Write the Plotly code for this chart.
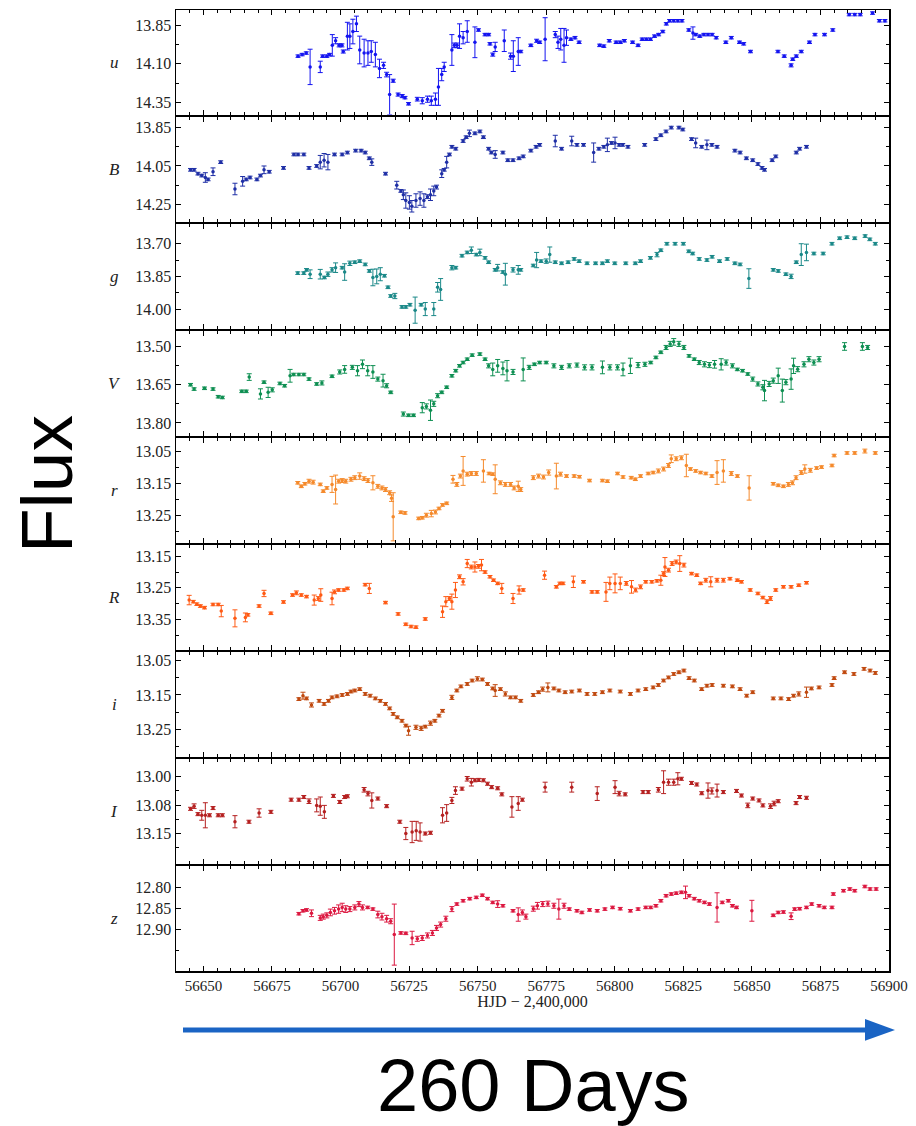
import plotly.graph_objects as go

# ---------------- data (HJD-2400000, magnitude, error) ----------------
BANDS = ["u", "B", "g", "V", "r", "R", "i", "I", "z"]

u_data = [
    (56684.5, 14.05, 0.008), (56686.0, 14.04, 0.008), (56687.5, 14.03, 0.008),
    (56688.9, 14.12, 0.115), (56692.6, 14.12, 0.037),
    (56693.5, 14.05, 0.008), (56695.0, 14.05, 0.008), (56696.0, 14.04, 0.008),
    (56697.0, 13.98, 0.07), (56698.2, 13.95, 0.02), (56699.5, 13.98, 0.01),
    (56700.5, 13.98, 0.01), (56701.0, 14.02, 0.01), (56702.5, 13.92, 0.09),
    (56703.4, 13.92, 0.08), (56704.5, 13.89, 0.08), (56705.8, 13.84, 0.05),
    (56707.0, 14.01, 0.09), (56708.6, 14.03, 0.09), (56710.0, 14.03, 0.08),
    (56711.2, 14.02, 0.07), (56712.7, 14.04, 0.08), (56714.2, 14.13, 0.06),
    (56715.7, 14.11, 0.02), (56716.8, 14.17, 0.015), (56717.9, 14.30, 0.13),
    (56719.2, 14.21, 0.01), (56721.0, 14.30, 0.01), (56722.5, 14.31, 0.01),
    (56723.5, 14.32, 0.008), (56724.8, 14.36, 0.008), (56728.0, 14.33, 0.012),
    (56729.8, 14.34, 0.02), (56731.7, 14.33, 0.02), (56733.1, 14.34, 0.03),
    (56734.6, 14.33, 0.04), (56735.7, 14.25, 0.12), (56736.9, 14.17, 0.04),
    (56737.8, 14.12, 0.03), (56740.6, 14.01, 0.10), (56741.5, 13.98, 0.015),
    (56742.5, 13.98, 0.015), (56743.4, 13.92, 0.08), (56744.7, 13.93, 0.04),
    (56746.2, 13.89, 0.07), (56749.0, 13.96, 0.10), (56750.3, 13.88, 0.008),
    (56752.7, 13.91, 0.008), (56754.0, 13.91, 0.008), (56754.5, 13.97, 0.008),
    (56755.5, 14.04, 0.01), (56756.4, 13.99, 0.03), (56759.7, 13.95, 0.07),
    (56762.0, 14.05, 0.02), (56763.0, 14.05, 0.10), (56764.8, 14.02, 0.09),
    (56765.7, 14.02, 0.008), (56769.4, 13.98, 0.008), (56771.5, 13.95, 0.01),
    (56772.6, 13.96, 0.008), (56774.6, 13.94, 0.14), (56778.3, 13.91, 0.02),
    (56779.3, 13.96, 0.04), (56780.3, 13.94, 0.07), (56781.5, 13.98, 0.11),
    (56782.4, 13.93, 0.05), (56784.0, 13.94, 0.008), (56785.5, 13.93, 0.008),
    (56787.0, 13.96, 0.008), (56794.5, 13.98, 0.008), (56796.0, 13.985, 0.008),
    (56798.0, 13.95, 0.008), (56800.5, 13.96, 0.008), (56802.0, 13.96, 0.008),
    (56803.5, 13.95, 0.008), (56806.5, 13.96, 0.008), (56808.5, 13.98, 0.008),
    (56810.0, 13.94, 0.008), (56811.5, 13.94, 0.008), (56813.0, 13.94, 0.008),
    (56814.5, 13.92, 0.008), (56816.0, 13.91, 0.008), (56817.5, 13.89, 0.008),
    (56818.8, 13.84, 0.008), (56820.0, 13.82, 0.008), (56821.5, 13.82, 0.008),
    (56823.0, 13.82, 0.008), (56824.5, 13.82, 0.008), (56827.0, 13.88, 0.008),
    (56828.5, 13.90, 0.04), (56829.5, 13.91, 0.008), (56831.0, 13.92, 0.008),
    (56832.5, 13.91, 0.008), (56834.0, 13.91, 0.008), (56835.5, 13.91, 0.008),
    (56837.0, 13.93, 0.008), (56840.5, 13.96, 0.008), (56842.5, 13.93, 0.008),
    (56845.5, 13.96, 0.008), (56847.0, 13.97, 0.008), (56849.5, 14.02, 0.008),
    (56859.5, 14.02, 0.008), (56861.8, 14.05, 0.008), (56864.3, 14.11, 0.01),
    (56864.9, 14.07, 0.008), (56866.2, 14.05, 0.008), (56868.0, 14.02, 0.008),
    (56871.0, 13.96, 0.008), (56873.0, 13.91, 0.008), (56876.5, 13.91, 0.008),
    (56879.5, 13.88, 0.008), (56885.5, 13.78, 0.008), (56887.5, 13.78, 0.008),
    (56889.5, 13.78, 0.008), (56894.0, 13.77, 0.008), (56896.5, 13.82, 0.008),
    (56898.5, 13.82, 0.008),
]

B_data = [
    (56645.3, 14.07, 0.007), (56646.6, 14.07, 0.007), (56648.0, 14.09, 0.007),
    (56649.4, 14.10, 0.007), (56650.7, 14.11, 0.025), (56651.7, 14.12, 0.007),
    (56653.5, 14.08, 0.02), (56656.3, 14.03, 0.007), (56661.5, 14.17, 0.03),
    (56664.3, 14.13, 0.025), (56665.6, 14.12, 0.007), (56667.0, 14.11, 0.007),
    (56669.5, 14.12, 0.007), (56670.8, 14.10, 0.007), (56672.1, 14.07, 0.02),
    (56674.0, 14.08, 0.007), (56679.2, 14.06, 0.007), (56683.0, 13.99, 0.007),
    (56684.5, 13.99, 0.007), (56686.6, 13.99, 0.007), (56688.5, 14.06, 0.007),
    (56691.3, 14.05, 0.007), (56692.6, 14.03, 0.035), (56694.0, 14.02, 0.035),
    (56695.4, 14.03, 0.04), (56697.8, 13.99, 0.007), (56700.6, 13.99, 0.007),
    (56702.5, 13.98, 0.007), (56705.5, 13.97, 0.007), (56707.5, 13.97, 0.007),
    (56709.0, 13.98, 0.007), (56710.5, 14.01, 0.007), (56711.4, 14.03, 0.017),
    (56716.4, 14.09, 0.007), (56720.5, 14.15, 0.02), (56722.0, 14.18, 0.007),
    (56722.9, 14.20, 0.025), (56723.8, 14.23, 0.04), (56725.1, 14.24, 0.035),
    (56726.0, 14.26, 0.03), (56727.5, 14.23, 0.035), (56729.0, 14.22, 0.035),
    (56730.4, 14.23, 0.035), (56731.7, 14.21, 0.01), (56732.8, 14.20, 0.03),
    (56734.0, 14.18, 0.025), (56735.0, 14.16, 0.01), (56736.9, 14.09, 0.02),
    (56737.8, 14.07, 0.007), (56738.7, 14.03, 0.03), (56739.7, 13.99, 0.007),
    (56740.6, 13.95, 0.007), (56742.0, 13.96, 0.007), (56744.7, 13.92, 0.007),
    (56745.8, 13.90, 0.007), (56747.0, 13.88, 0.017), (56749.0, 13.88, 0.007),
    (56750.8, 13.87, 0.007), (56752.1, 13.90, 0.007), (56754.0, 13.96, 0.007),
    (56755.0, 13.98, 0.007), (56756.4, 13.99, 0.02), (56759.2, 13.98, 0.007),
    (56761.0, 14.02, 0.007), (56762.9, 14.02, 0.007), (56765.1, 14.01, 0.007),
    (56766.6, 14.00, 0.007), (56769.4, 13.97, 0.007), (56771.3, 13.95, 0.007),
    (56772.6, 13.94, 0.007), (56778.3, 13.92, 0.03), (56780.6, 13.96, 0.007),
    (56784.3, 13.92, 0.025), (56786.2, 13.94, 0.007), (56788.6, 13.94, 0.007),
    (56792.3, 13.98, 0.05), (56794.2, 13.96, 0.007), (56796.0, 13.95, 0.007),
    (56797.3, 13.94, 0.035), (56798.8, 13.93, 0.007), (56800.1, 13.93, 0.03),
    (56801.6, 13.94, 0.007), (56802.9, 13.94, 0.007), (56804.8, 13.95, 0.007),
    (56810.9, 13.94, 0.007), (56815.0, 13.91, 0.007), (56816.8, 13.89, 0.007),
    (56818.7, 13.87, 0.007), (56820.6, 13.85, 0.007), (56823.4, 13.85, 0.007),
    (56824.8, 13.86, 0.007), (56828.0, 13.91, 0.007), (56829.5, 13.93, 0.025),
    (56831.7, 13.95, 0.007), (56833.6, 13.94, 0.025), (56835.4, 13.94, 0.007),
    (56837.3, 13.95, 0.007), (56843.8, 13.97, 0.007), (56845.7, 13.98, 0.007),
    (56848.0, 14.01, 0.007), (56850.3, 14.02, 0.007), (56852.2, 14.04, 0.007),
    (56853.7, 14.06, 0.007), (56854.6, 14.07, 0.007), (56857.4, 14.02, 0.007),
    (56858.7, 14.00, 0.007), (56866.2, 13.98, 0.007), (56867.4, 13.96, 0.007),
    (56869.9, 13.95, 0.007),
]

g_data = [
    (56684.4, 13.835, 0.006), (56686.6, 13.835, 0.006), (56687.6, 13.82, 0.006),
    (56688.9, 13.84, 0.02), (56692.6, 13.84, 0.022), (56694.1, 13.855, 0.006),
    (56695.4, 13.84, 0.01), (56696.9, 13.82, 0.01), (56698.2, 13.81, 0.022),
    (56700.6, 13.81, 0.006), (56701.5, 13.83, 0.038), (56703.4, 13.79, 0.01),
    (56705.2, 13.785, 0.006), (56707.0, 13.78, 0.006), (56709.0, 13.795, 0.006),
    (56710.5, 13.825, 0.006), (56711.8, 13.855, 0.038), (56713.2, 13.85, 0.034),
    (56714.5, 13.84, 0.03), (56716.0, 13.847, 0.006), (56717.3, 13.90, 0.006),
    (56718.3, 13.94, 0.006), (56719.8, 13.94, 0.012), (56722.4, 13.99, 0.006),
    (56723.8, 13.99, 0.006), (56725.3, 13.98, 0.006), (56727.2, 14.005, 0.06),
    (56729.4, 13.98, 0.006), (56730.9, 14.00, 0.03), (56734.0, 14.00, 0.03),
    (56735.4, 13.90, 0.022), (56736.5, 13.91, 0.05), (56740.6, 13.81, 0.01),
    (56742.0, 13.81, 0.006), (56744.3, 13.755, 0.006), (56746.2, 13.74, 0.006),
    (56747.7, 13.73, 0.015), (56749.5, 13.75, 0.006), (56750.8, 13.74, 0.015),
    (56752.7, 13.765, 0.006), (56754.0, 13.785, 0.006), (56756.4, 13.82, 0.006),
    (56757.3, 13.81, 0.015), (56759.2, 13.83, 0.006), (56760.1, 13.84, 0.05),
    (56762.9, 13.82, 0.01), (56764.8, 13.82, 0.02), (56765.7, 13.82, 0.006),
    (56770.3, 13.80, 0.006), (56771.5, 13.775, 0.035), (56773.1, 13.78, 0.006),
    (56775.0, 13.78, 0.01), (56776.3, 13.75, 0.035), (56778.3, 13.785, 0.006),
    (56780.6, 13.79, 0.006), (56783.0, 13.785, 0.006), (56785.2, 13.77, 0.006),
    (56787.0, 13.78, 0.006), (56789.9, 13.79, 0.006), (56793.0, 13.79, 0.006),
    (56795.5, 13.79, 0.006), (56797.3, 13.78, 0.006), (56800.0, 13.79, 0.006),
    (56804.0, 13.79, 0.006), (56807.5, 13.79, 0.006), (56809.4, 13.78, 0.006),
    (56813.0, 13.765, 0.006), (56815.4, 13.75, 0.01), (56816.8, 13.73, 0.006),
    (56819.0, 13.70, 0.006), (56822.0, 13.70, 0.006), (56825.0, 13.70, 0.006),
    (56827.0, 13.735, 0.006), (56828.4, 13.745, 0.006), (56830.8, 13.77, 0.006),
    (56833.6, 13.775, 0.006), (56835.5, 13.76, 0.006), (56838.2, 13.78, 0.006),
    (56841.0, 13.77, 0.006), (56843.8, 13.79, 0.006), (56845.7, 13.795, 0.006),
    (56848.9, 13.86, 0.045), (56857.8, 13.82, 0.006), (56859.6, 13.825, 0.006),
    (56862.4, 13.84, 0.006), (56864.3, 13.85, 0.01), (56866.2, 13.785, 0.006),
    (56868.0, 13.75, 0.05), (56869.9, 13.74, 0.038), (56872.6, 13.745, 0.006),
    (56876.0, 13.745, 0.006), (56879.2, 13.70, 0.006), (56882.0, 13.675, 0.006),
    (56884.7, 13.67, 0.006), (56887.5, 13.675, 0.006), (56891.3, 13.665, 0.006),
    (56893.0, 13.68, 0.006), (56895.0, 13.70, 0.006),
]

V_data = [
    (56645.3, 13.65, 0.005), (56646.6, 13.667, 0.005), (56650.4, 13.664, 0.005),
    (56653.5, 13.667, 0.005), (56655.4, 13.697, 0.005), (56656.9, 13.70, 0.005),
    (56664.0, 13.676, 0.005), (56665.6, 13.676, 0.005), (56666.7, 13.62, 0.013),
    (56670.8, 13.686, 0.02), (56672.1, 13.64, 0.005), (56673.6, 13.68, 0.02),
    (56675.1, 13.67, 0.008), (56677.9, 13.645, 0.005), (56679.6, 13.654, 0.005),
    (56681.6, 13.615, 0.025), (56682.9, 13.61, 0.005), (56684.8, 13.61, 0.005),
    (56686.6, 13.61, 0.005), (56688.5, 13.628, 0.005), (56691.3, 13.647, 0.005),
    (56693.2, 13.643, 0.008), (56696.9, 13.617, 0.005), (56699.7, 13.60, 0.008),
    (56701.5, 13.59, 0.015), (56704.3, 13.582, 0.008), (56706.2, 13.595, 0.02),
    (56708.0, 13.57, 0.017), (56709.9, 13.595, 0.02), (56711.8, 13.60, 0.025),
    (56713.6, 13.628, 0.008), (56715.5, 13.634, 0.025), (56716.8, 13.654, 0.008),
    (56718.3, 13.68, 0.005), (56722.9, 13.765, 0.008), (56724.8, 13.77, 0.005),
    (56726.6, 13.77, 0.005), (56729.8, 13.74, 0.02), (56731.3, 13.735, 0.01),
    (56732.8, 13.75, 0.04), (56734.0, 13.725, 0.01), (56735.4, 13.693, 0.008),
    (56736.9, 13.68, 0.005), (56738.7, 13.66, 0.005), (56740.6, 13.615, 0.005),
    (56742.0, 13.595, 0.005), (56743.4, 13.576, 0.005), (56744.7, 13.563, 0.005),
    (56746.2, 13.55, 0.005), (56748.0, 13.534, 0.005), (56750.8, 13.53, 0.005),
    (56752.7, 13.55, 0.005), (56754.0, 13.576, 0.008), (56755.5, 13.59, 0.025),
    (56757.3, 13.576, 0.025), (56759.2, 13.586, 0.025), (56760.7, 13.595, 0.04),
    (56762.9, 13.60, 0.01), (56766.6, 13.59, 0.045), (56768.8, 13.582, 0.008),
    (56770.7, 13.57, 0.005), (56772.6, 13.563, 0.005), (56775.0, 13.563, 0.005),
    (56777.8, 13.576, 0.008), (56780.6, 13.582, 0.008), (56783.4, 13.576, 0.008),
    (56786.2, 13.573, 0.008), (56789.0, 13.582, 0.01), (56791.7, 13.582, 0.01),
    (56795.5, 13.582, 0.025), (56798.2, 13.582, 0.01), (56801.0, 13.582, 0.01),
    (56803.0, 13.59, 0.025), (56805.7, 13.576, 0.03), (56808.5, 13.573, 0.01),
    (56811.0, 13.57, 0.008), (56813.1, 13.563, 0.005), (56815.0, 13.543, 0.005),
    (56816.8, 13.523, 0.005), (56818.7, 13.504, 0.008), (56820.2, 13.49, 0.01),
    (56821.5, 13.482, 0.013), (56823.4, 13.49, 0.01), (56825.2, 13.504, 0.008),
    (56827.1, 13.537, 0.005), (56829.0, 13.55, 0.005), (56830.8, 13.563, 0.008),
    (56832.7, 13.57, 0.01), (56834.5, 13.573, 0.01), (56836.4, 13.57, 0.015),
    (56838.8, 13.57, 0.022), (56840.6, 13.563, 0.01), (56842.9, 13.576, 0.008),
    (56844.7, 13.59, 0.005), (56846.6, 13.595, 0.005), (56848.5, 13.608, 0.005),
    (56850.3, 13.628, 0.008), (56852.2, 13.647, 0.008), (56854.0, 13.66, 0.01),
    (56854.6, 13.673, 0.04), (56856.3, 13.647, 0.01), (56857.8, 13.634, 0.01),
    (56859.6, 13.615, 0.03), (56861.1, 13.673, 0.045), (56862.4, 13.64, 0.01),
    (56864.3, 13.628, 0.04), (56865.2, 13.576, 0.03), (56866.7, 13.589, 0.01),
    (56869.0, 13.57, 0.01), (56870.8, 13.55, 0.01), (56872.6, 13.563, 0.01),
    (56874.5, 13.55, 0.01), (56883.8, 13.50, 0.015), (56890.3, 13.50, 0.015),
    (56892.2, 13.504, 0.008),
]

r_data = [
    (56684.4, 13.149, 0.004), (56685.7, 13.16, 0.004), (56687.0, 13.152, 0.004),
    (56688.5, 13.144, 0.006), (56690.0, 13.147, 0.006), (56692.6, 13.154, 0.004),
    (56693.7, 13.175, 0.004), (56695.0, 13.165, 0.004), (56696.9, 13.154, 0.025),
    (56698.2, 13.17, 0.045), (56699.3, 13.144, 0.006), (56700.6, 13.142, 0.006),
    (56701.9, 13.144, 0.006), (56703.8, 13.138, 0.006), (56705.2, 13.133, 0.006),
    (56707.0, 13.128, 0.01), (56708.6, 13.136, 0.006), (56710.0, 13.142, 0.006),
    (56711.8, 13.149, 0.022), (56713.6, 13.16, 0.006), (56715.1, 13.165, 0.006),
    (56716.4, 13.17, 0.006), (56717.9, 13.18, 0.006), (56718.6, 13.197, 0.01),
    (56719.2, 13.255, 0.075), (56722.0, 13.241, 0.004), (56723.5, 13.243, 0.004),
    (56728.5, 13.26, 0.004), (56729.8, 13.258, 0.004), (56731.3, 13.25, 0.006),
    (56733.1, 13.245, 0.01), (56734.6, 13.24, 0.006), (56735.9, 13.229, 0.004),
    (56737.2, 13.218, 0.004), (56738.7, 13.213, 0.004), (56741.0, 13.138, 0.012),
    (56742.4, 13.154, 0.006), (56743.7, 13.128, 0.006), (56744.7, 13.112, 0.045),
    (56746.2, 13.122, 0.006), (56747.7, 13.12, 0.006), (56749.5, 13.12, 0.006),
    (56752.1, 13.112, 0.035), (56754.2, 13.12, 0.004), (56755.5, 13.122, 0.004),
    (56756.4, 13.138, 0.045), (56758.3, 13.149, 0.006), (56760.1, 13.154, 0.006),
    (56762.0, 13.154, 0.006), (56763.3, 13.165, 0.006), (56764.8, 13.16, 0.016),
    (56765.7, 13.17, 0.006), (56770.3, 13.133, 0.006), (56772.2, 13.128, 0.006),
    (56774.0, 13.131, 0.006), (56775.9, 13.117, 0.008), (56778.7, 13.128, 0.04),
    (56780.2, 13.122, 0.006), (56782.4, 13.128, 0.004), (56785.2, 13.128, 0.004),
    (56787.1, 13.13, 0.004), (56790.8, 13.142, 0.004), (56795.5, 13.142, 0.004),
    (56797.3, 13.144, 0.004), (56801.0, 13.12, 0.004), (56803.0, 13.131, 0.004),
    (56806.0, 13.133, 0.004), (56807.5, 13.138, 0.004), (56809.4, 13.128, 0.004),
    (56812.2, 13.12, 0.004), (56814.0, 13.117, 0.004), (56815.9, 13.112, 0.006),
    (56817.8, 13.106, 0.006), (56819.6, 13.095, 0.006), (56820.6, 13.074, 0.012),
    (56822.4, 13.074, 0.006), (56824.3, 13.071, 0.006), (56826.1, 13.095, 0.035),
    (56827.6, 13.106, 0.004), (56829.5, 13.112, 0.004), (56831.3, 13.117, 0.004),
    (56833.2, 13.12, 0.004), (56835.4, 13.128, 0.004), (56837.3, 13.117, 0.037),
    (56839.6, 13.112, 0.035), (56842.5, 13.12, 0.006), (56844.7, 13.128, 0.004),
    (56849.0, 13.165, 0.038), (56857.8, 13.152, 0.004), (56859.6, 13.157, 0.004),
    (56861.5, 13.16, 0.004), (56863.3, 13.154, 0.006), (56864.8, 13.149, 0.006),
    (56866.1, 13.133, 0.006), (56868.0, 13.117, 0.006), (56869.3, 13.106, 0.013),
    (56871.3, 13.11, 0.006), (56873.6, 13.103, 0.004), (56875.4, 13.10, 0.004),
    (56879.2, 13.095, 0.004), (56880.0, 13.064, 0.004), (56884.7, 13.056, 0.004),
    (56887.5, 13.056, 0.004), (56891.2, 13.05, 0.006), (56895.0, 13.056, 0.004),
]

R_data = [
    (56644.8, 13.289, 0.015), (56646.3, 13.294, 0.004), (56647.6, 13.302, 0.004),
    (56648.9, 13.308, 0.004), (56650.4, 13.313, 0.004), (56653.5, 13.303, 0.004),
    (56655.4, 13.303, 0.004), (56656.5, 13.324, 0.018), (56661.5, 13.347, 0.027),
    (56665.3, 13.344, 0.014), (56666.2, 13.336, 0.004), (56670.3, 13.308, 0.004),
    (56672.1, 13.268, 0.01), (56674.6, 13.331, 0.004), (56679.2, 13.295, 0.004),
    (56682.5, 13.273, 0.004), (56683.9, 13.266, 0.006), (56685.7, 13.273, 0.004),
    (56687.6, 13.278, 0.004), (56690.4, 13.289, 0.016), (56691.9, 13.284, 0.006),
    (56692.8, 13.273, 0.02), (56696.9, 13.284, 0.02), (56697.8, 13.263, 0.006),
    (56699.3, 13.257, 0.004), (56701.2, 13.257, 0.004), (56702.5, 13.252, 0.004),
    (56709.0, 13.24, 0.004), (56710.5, 13.252, 0.016), (56716.4, 13.297, 0.004),
    (56721.0, 13.333, 0.004), (56723.8, 13.366, 0.004), (56725.7, 13.373, 0.004),
    (56727.5, 13.375, 0.004), (56730.9, 13.349, 0.004), (56737.2, 13.326, 0.018),
    (56738.4, 13.294, 0.016), (56739.7, 13.284, 0.006), (56740.6, 13.294, 0.024),
    (56741.9, 13.257, 0.024), (56743.4, 13.215, 0.006), (56744.7, 13.231, 0.01),
    (56746.2, 13.173, 0.013), (56747.7, 13.184, 0.006), (56749.0, 13.184, 0.016),
    (56750.3, 13.182, 0.006), (56751.4, 13.178, 0.018), (56752.7, 13.20, 0.004),
    (56754.5, 13.215, 0.004), (56755.8, 13.226, 0.004), (56757.3, 13.236, 0.004),
    (56758.8, 13.252, 0.016), (56762.9, 13.284, 0.016), (56765.1, 13.257, 0.013),
    (56766.6, 13.257, 0.004), (56774.4, 13.21, 0.013), (56778.7, 13.247, 0.004),
    (56780.0, 13.236, 0.004), (56781.1, 13.236, 0.004), (56784.9, 13.231, 0.018),
    (56788.6, 13.231, 0.004), (56791.7, 13.263, 0.004), (56793.6, 13.263, 0.004),
    (56796.8, 13.263, 0.03), (56798.2, 13.236, 0.02), (56800.1, 13.236, 0.03),
    (56802.0, 13.236, 0.02), (56804.2, 13.236, 0.006), (56806.1, 13.247, 0.02),
    (56807.6, 13.257, 0.006), (56809.4, 13.247, 0.006), (56811.3, 13.231, 0.004),
    (56813.5, 13.231, 0.004), (56815.4, 13.228, 0.004), (56816.8, 13.226, 0.016),
    (56817.8, 13.205, 0.006), (56818.3, 13.184, 0.03), (56819.6, 13.194, 0.006),
    (56820.9, 13.173, 0.006), (56822.4, 13.168, 0.006), (56823.7, 13.173, 0.025),
    (56825.2, 13.178, 0.006), (56828.0, 13.205, 0.004), (56829.9, 13.21, 0.004),
    (56831.3, 13.236, 0.004), (56833.2, 13.226, 0.006), (56835.0, 13.231, 0.016),
    (56837.3, 13.226, 0.006), (56839.6, 13.226, 0.006), (56842.0, 13.221, 0.004),
    (56844.7, 13.226, 0.004), (56846.2, 13.231, 0.004), (56849.4, 13.257, 0.004),
    (56852.2, 13.268, 0.004), (56854.0, 13.281, 0.004), (56855.5, 13.294, 0.006),
    (56856.8, 13.284, 0.006), (56858.7, 13.257, 0.004), (56861.5, 13.247, 0.004),
    (56864.3, 13.247, 0.004), (56867.1, 13.242, 0.004), (56869.9, 13.234, 0.004),
]

i_data = [
    (56684.8, 13.162, 0.004), (56686.3, 13.152, 0.01), (56687.6, 13.16, 0.004),
    (56689.4, 13.179, 0.006), (56692.2, 13.167, 0.004), (56694.0, 13.176, 0.004),
    (56695.6, 13.167, 0.004), (56696.9, 13.157, 0.004), (56698.7, 13.154, 0.004),
    (56700.6, 13.15, 0.004), (56702.5, 13.147, 0.004), (56703.8, 13.14, 0.004),
    (56705.2, 13.137, 0.004), (56707.0, 13.133, 0.004), (56709.0, 13.147, 0.004),
    (56710.8, 13.152, 0.004), (56712.7, 13.16, 0.004), (56714.5, 13.167, 0.004),
    (56716.4, 13.176, 0.004), (56717.9, 13.189, 0.004), (56719.2, 13.205, 0.004),
    (56720.7, 13.215, 0.004), (56722.4, 13.225, 0.004), (56723.8, 13.239, 0.004),
    (56724.8, 13.254, 0.013), (56727.5, 13.244, 0.006), (56729.4, 13.247, 0.006),
    (56730.9, 13.242, 0.004), (56732.8, 13.232, 0.006), (56734.4, 13.225, 0.004),
    (56735.9, 13.21, 0.004), (56737.2, 13.196, 0.004), (56740.6, 13.157, 0.006),
    (56742.4, 13.137, 0.004), (56743.9, 13.125, 0.004), (56746.2, 13.118, 0.004),
    (56748.0, 13.108, 0.004), (56749.9, 13.103, 0.006), (56751.7, 13.105, 0.004),
    (56753.6, 13.118, 0.004), (56755.5, 13.131, 0.004), (56756.4, 13.137, 0.017),
    (56758.3, 13.133, 0.004), (56760.1, 13.147, 0.006), (56762.0, 13.157, 0.004),
    (56763.8, 13.157, 0.004), (56765.7, 13.167, 0.004), (56770.3, 13.15, 0.004),
    (56772.2, 13.142, 0.004), (56773.7, 13.133, 0.006), (56775.6, 13.128, 0.013),
    (56777.8, 13.131, 0.004), (56779.6, 13.137, 0.004), (56781.9, 13.142, 0.004),
    (56784.3, 13.14, 0.004), (56787.1, 13.137, 0.004), (56789.9, 13.147, 0.004),
    (56792.7, 13.147, 0.004), (56795.5, 13.142, 0.004), (56798.2, 13.137, 0.004),
    (56802.0, 13.14, 0.004), (56805.7, 13.147, 0.004), (56808.5, 13.137, 0.004),
    (56811.3, 13.133, 0.004), (56814.0, 13.128, 0.004), (56815.9, 13.121, 0.004),
    (56817.8, 13.108, 0.004), (56819.6, 13.099, 0.004), (56821.5, 13.089, 0.004),
    (56823.4, 13.084, 0.004), (56825.2, 13.079, 0.004), (56827.1, 13.101, 0.004),
    (56829.0, 13.108, 0.004), (56831.7, 13.133, 0.004), (56833.6, 13.123, 0.004),
    (56835.5, 13.121, 0.004), (56839.6, 13.123, 0.004), (56842.9, 13.125, 0.004),
    (56845.7, 13.133, 0.004), (56848.1, 13.152, 0.004), (56850.3, 13.142, 0.004),
    (56857.8, 13.16, 0.004), (56860.6, 13.16, 0.004), (56863.4, 13.162, 0.004),
    (56865.2, 13.152, 0.004), (56867.1, 13.147, 0.006), (56869.9, 13.142, 0.015),
    (56871.7, 13.131, 0.004), (56874.5, 13.128, 0.004), (56879.2, 13.121, 0.004),
    (56880.0, 13.101, 0.004), (56883.8, 13.084, 0.004), (56887.2, 13.089, 0.004),
    (56890.9, 13.074, 0.004), (56893.1, 13.079, 0.004), (56895.0, 13.086, 0.004),
]

I_data = [
    (56645.3, 13.085, 0.004), (56646.6, 13.078, 0.006), (56648.0, 13.099, 0.004),
    (56649.4, 13.102, 0.013), (56650.7, 13.102, 0.033), (56652.2, 13.102, 0.004),
    (56653.5, 13.083, 0.004), (56655.4, 13.102, 0.004), (56656.9, 13.102, 0.004),
    (56661.5, 13.119, 0.016), (56666.6, 13.119, 0.004), (56670.3, 13.096, 0.011),
    (56674.6, 13.093, 0.004), (56682.0, 13.061, 0.004), (56684.8, 13.061, 0.004),
    (56686.6, 13.054, 0.004), (56688.5, 13.065, 0.006), (56691.3, 13.076, 0.017),
    (56692.6, 13.078, 0.024), (56694.1, 13.093, 0.017), (56697.4, 13.051, 0.004),
    (56699.7, 13.067, 0.004), (56701.5, 13.054, 0.004), (56702.5, 13.052, 0.004),
    (56708.6, 13.035, 0.006), (56710.0, 13.045, 0.006), (56711.4, 13.063, 0.02),
    (56713.6, 13.058, 0.004), (56716.8, 13.078, 0.004), (56721.6, 13.119, 0.004),
    (56723.8, 13.15, 0.016), (56726.1, 13.146, 0.028), (56727.6, 13.143, 0.025),
    (56729.0, 13.146, 0.024), (56730.9, 13.15, 0.004), (56732.8, 13.148, 0.004),
    (56737.2, 13.102, 0.02), (56738.7, 13.096, 0.022), (56740.6, 13.063, 0.008),
    (56741.9, 13.037, 0.01), (56744.3, 13.032, 0.004), (56746.2, 13.006, 0.006),
    (56747.7, 13.015, 0.01), (56749.0, 13.01, 0.004), (56750.4, 13.009, 0.004),
    (56752.1, 13.01, 0.004), (56753.6, 13.019, 0.004), (56755.1, 13.028, 0.004),
    (56757.3, 13.031, 0.004), (56758.8, 13.047, 0.004), (56762.5, 13.08, 0.027),
    (56764.8, 13.071, 0.018), (56766.3, 13.061, 0.004), (56774.6, 13.028, 0.013),
    (56784.3, 13.028, 0.013), (56793.6, 13.045, 0.018), (56800.1, 13.028, 0.017),
    (56801.6, 13.045, 0.006), (56803.8, 13.047, 0.004), (56810.3, 13.041, 0.004),
    (56812.2, 13.041, 0.004), (56815.9, 13.035, 0.006), (56817.8, 13.015, 0.03),
    (56819.6, 13.015, 0.008), (56821.5, 13.015, 0.008), (56823.0, 13.006, 0.016),
    (56824.3, 13.006, 0.004), (56828.0, 13.017, 0.004), (56829.9, 13.021, 0.004),
    (56831.7, 13.044, 0.004), (56834.0, 13.037, 0.02), (56835.4, 13.038, 0.008),
    (56837.3, 13.037, 0.017), (56839.6, 13.041, 0.004), (56844.4, 13.038, 0.004),
    (56846.2, 13.05, 0.004), (56848.5, 13.076, 0.006), (56850.3, 13.058, 0.004),
    (56852.6, 13.063, 0.004), (56854.0, 13.076, 0.004), (56856.8, 13.078, 0.006),
    (56858.1, 13.071, 0.006), (56859.6, 13.065, 0.004), (56866.1, 13.07, 0.004),
    (56867.4, 13.054, 0.004), (56869.9, 13.056, 0.004),
]

z_data = [
    (56684.8, 12.863, 0.003), (56686.3, 12.856, 0.003), (56687.6, 12.854, 0.003),
    (56689.4, 12.862, 0.008), (56692.6, 12.873, 0.006), (56693.7, 12.87, 0.006),
    (56695.0, 12.867, 0.006), (56696.3, 12.86, 0.008), (56697.8, 12.856, 0.008),
    (56699.3, 12.852, 0.01), (56700.6, 12.848, 0.01), (56701.9, 12.852, 0.008),
    (56703.4, 12.852, 0.006), (56705.2, 12.848, 0.006), (56706.7, 12.84, 0.006),
    (56708.0, 12.848, 0.006), (56709.9, 12.848, 0.003), (56711.8, 12.852, 0.003),
    (56713.6, 12.865, 0.008), (56715.1, 12.87, 0.008), (56716.8, 12.875, 0.008),
    (56718.3, 12.881, 0.006), (56719.6, 12.913, 0.073), (56722.0, 12.909, 0.003),
    (56723.8, 12.91, 0.003), (56726.1, 12.921, 0.016), (56728.0, 12.923, 0.006),
    (56729.8, 12.921, 0.006), (56731.7, 12.915, 0.006), (56733.5, 12.909, 0.006),
    (56735.0, 12.897, 0.006), (56736.5, 12.889, 0.006), (56738.4, 12.875, 0.006),
    (56740.6, 12.852, 0.006), (56742.4, 12.84, 0.003), (56744.7, 12.832, 0.003),
    (56747.1, 12.827, 0.003), (56749.5, 12.824, 0.003), (56751.7, 12.819, 0.003),
    (56753.6, 12.827, 0.003), (56755.5, 12.836, 0.003), (56757.3, 12.84, 0.008),
    (56759.2, 12.844, 0.003), (56762.9, 12.856, 0.003), (56764.8, 12.865, 0.016),
    (56766.3, 12.86, 0.006), (56767.6, 12.87, 0.006), (56770.3, 12.851, 0.006),
    (56771.8, 12.844, 0.008), (56773.7, 12.84, 0.006), (56775.6, 12.839, 0.006),
    (56777.8, 12.844, 0.006), (56779.6, 12.852, 0.024), (56781.5, 12.844, 0.006),
    (56783.4, 12.852, 0.003), (56786.2, 12.856, 0.003), (56788.0, 12.86, 0.003),
    (56790.8, 12.854, 0.003), (56793.6, 12.856, 0.003), (56796.4, 12.852, 0.003),
    (56799.2, 12.848, 0.003), (56802.0, 12.851, 0.003), (56805.7, 12.856, 0.003),
    (56808.5, 12.852, 0.003), (56811.3, 12.848, 0.003), (56813.1, 12.848, 0.003),
    (56815.0, 12.844, 0.003), (56816.8, 12.832, 0.003), (56818.7, 12.82, 0.003),
    (56820.6, 12.816, 0.003), (56822.4, 12.814, 0.003), (56824.3, 12.812, 0.003),
    (56825.8, 12.812, 0.015), (56827.1, 12.82, 0.003), (56829.0, 12.827, 0.003),
    (56830.8, 12.832, 0.003), (56832.7, 12.836, 0.003), (56834.5, 12.84, 0.003),
    (56837.3, 12.848, 0.035), (56839.2, 12.836, 0.003), (56841.4, 12.832, 0.003),
    (56842.9, 12.844, 0.003), (56844.4, 12.848, 0.003), (56850.0, 12.856, 0.025),
    (56857.8, 12.867, 0.003), (56859.6, 12.86, 0.003), (56861.5, 12.859, 0.003),
    (56864.3, 12.869, 0.008), (56865.6, 12.852, 0.003), (56867.4, 12.851, 0.003),
    (56869.9, 12.848, 0.003), (56871.8, 12.84, 0.003), (56874.5, 12.844, 0.003),
    (56876.4, 12.848, 0.003), (56879.2, 12.848, 0.003), (56879.7, 12.816, 0.003),
    (56883.4, 12.808, 0.003), (56885.7, 12.804, 0.003), (56887.5, 12.808, 0.003),
    (56891.2, 12.798, 0.003), (56893.1, 12.804, 0.003), (56895.3, 12.804, 0.003),
]

SERIES = [u_data, B_data, g_data, V_data, r_data, R_data, i_data, I_data, z_data]

COLORS = ["#1414f0", "#1f2fa6", "#1a8888", "#0e8f52", "#f58a2c",
          "#ff5a14", "#c0490f", "#b52020", "#dc1840"]

Y_RANGES = [(14.43, 13.75), (14.34, 13.795), (14.09, 13.61), (13.85, 13.44),
            (13.336, 13.01), (13.447, 13.115), (13.33, 13.026), (13.23, 12.955),
            (13.0, 12.75)]
Y_TICKS = [[13.85, 14.10, 14.35], [13.85, 14.05, 14.25], [13.70, 13.85, 14.00],
           [13.50, 13.65, 13.80], [13.05, 13.15, 13.25], [13.15, 13.25, 13.35],
           [13.05, 13.15, 13.25], [13.00, 13.075, 13.15], [12.80, 12.85, 12.90]]
Y_TICKTEXT = [["13.85", "14.10", "14.35"], ["13.85", "14.05", "14.25"],
              ["13.70", "13.85", "14.00"], ["13.50", "13.65", "13.80"],
              ["13.05", "13.15", "13.25"], ["13.15", "13.25", "13.35"],
              ["13.05", "13.15", "13.25"], ["13.00", "13.08", "13.15"],
              ["12.80", "12.85", "12.90"]]
Y_MINOR = [[13.975, 14.225], [13.95, 14.15], [13.775, 13.925],
           [13.575, 13.725], [13.10, 13.20, 13.30], [13.20, 13.30, 13.40],
           [13.10, 13.20, 13.30], [13.0375, 13.1125, 13.1875], [12.95]]

X_TICKS = [56650, 56675, 56700, 56725, 56750, 56775, 56800, 56825, 56850, 56875, 56900]
X_TICKTEXT = ["56650", "56675", "56700", "56725", "56750", "56775",
              "56800", "56825", "56850", "56875", "56900"]

# ---------------- layout geometry (pixels) ----------------
W, H = 916, 1126
ML, MR, MT, MB = 176, 27, 8, 155
PH = H - MT - MB
GAP = 2.5
N = len(BANDS)
panel_h = (PH - GAP * (N - 1)) / N

SERIF = "Liberation Serif, Times New Roman, serif"
SANS = "Liberation Sans, Arial, sans-serif"
fig = go.Figure()
layout = {}
annotations = []

for k in range(N):
    data = SERIES[k]
    xs = [p[0] for p in data]
    ys = [p[1] for p in data]
    es = [p[2] for p in data]
    ax = "" if k == 0 else str(k + 1)
    fig.add_trace(go.Scatter(
        x=xs, y=ys, mode="markers",
        marker=dict(size=3.5, color=COLORS[k]),
        error_y=dict(type="data", array=es, visible=True, thickness=1,
                     width=2.5, color=COLORS[k]),
        xaxis="x" + ax, yaxis="y" + ax, showlegend=False,
        hoverinfo="skip"))

    top_px = k * (panel_h + GAP)
    bot_px = top_px + panel_h
    dom = [1 - bot_px / PH, 1 - top_px / PH]

    layout["xaxis" + ax] = dict(
        domain=[0, 1], anchor="y" + ax, range=[56640, 56900],
        tickmode="array", tickvals=X_TICKS, ticktext=X_TICKTEXT,
        ticks="inside", ticklen=5, tickwidth=1, tickcolor="black",
        minor=dict(ticks="inside", ticklen=3, tickwidth=1, tickcolor="black",
                   tickmode="linear", tick0=56640, dtick=5),
        showline=True, linecolor="black", linewidth=1.5, mirror="allticks",
        showgrid=False, zeroline=False, showticklabels=(k == N - 1),
        tickfont=dict(family=SERIF, size=15, color="#222"),
    )
    layout["yaxis" + ax] = dict(
        domain=dom, anchor="x" + ax, range=list(Y_RANGES[k]),
        tickmode="array", tickvals=Y_TICKS[k], ticktext=Y_TICKTEXT[k],
        ticks="inside", ticklen=5, tickwidth=1, tickcolor="black",
        minor=dict(ticks="inside", ticklen=3, tickwidth=1, tickcolor="black",
                   tickmode="array", tickvals=Y_MINOR[k]),
        showline=True, linecolor="black", linewidth=1.5, mirror="allticks",
        showgrid=False, zeroline=False,
        tickfont=dict(family=SERIF, size=16, color="#222"),
    )
    annotations.append(dict(
        text="<i>%s</i>" % BANDS[k], xref="paper", yref="paper",
        x=(114 - ML) / (W - ML - MR), y=(dom[0] + dom[1]) / 2,
        showarrow=False, xanchor="center", yanchor="middle",
        font=dict(family=SERIF, size=17, color="#222")))

layout["xaxis" + str(N)]["title"] = dict(
    text="HJD \u2212 2,400,000", standoff=2,
    font=dict(family=SERIF, size=16, color="#222"))

PW = W - ML - MR


def px(xp):
    return (xp - ML) / PW


def py(yp):
    return (H - MB - yp) / PH


annotations.append(dict(
    text="Flux", xref="paper", yref="paper", x=px(46), y=py(483),
    showarrow=False, textangle=-90, xanchor="center", yanchor="middle",
    font=dict(family=SANS, size=73, color="black")))
annotations.append(dict(
    text="260 Days", xref="paper", yref="paper", x=px(533), y=py(1086),
    showarrow=False, xanchor="center", yanchor="middle",
    font=dict(family=SANS, size=74, color="black")))

ARROW = "#1a64c4"
shapes = [
    dict(type="line", xref="paper", yref="paper", x0=px(183), x1=px(868),
         y0=py(1030), y1=py(1030), line=dict(color=ARROW, width=5)),
    dict(type="path", xref="paper", yref="paper",
         path="M %f %f L %f %f L %f %f Z" % (px(865), py(1019), px(895), py(1030),
                                             px(865), py(1041)),
         fillcolor=ARROW, line=dict(color=ARROW, width=0)),
]

fig.update_layout(
    width=W, height=H, margin=dict(l=ML, r=MR, t=MT, b=MB),
    paper_bgcolor="white", plot_bgcolor="white", hovermode=False,
    annotations=annotations, shapes=shapes, **layout)

fig.write_html("out.html",
               config={"displayModeBar": False, "staticPlot": True},
               post_script="document.body.style.margin='0px';"
                           "document.body.style.padding='0px';"
                           "document.body.style.overflow='hidden';")
